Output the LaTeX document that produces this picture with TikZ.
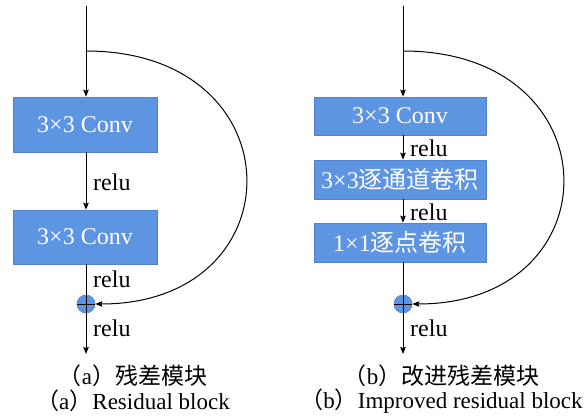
\documentclass[tikz,border=0pt]{standalone}
\usepackage{fontspec}
\setmainfont{Liberation Serif}
\newfontfamily\cjk{Noto Sans CJK SC}
\usetikzlibrary{arrows.meta}
\definecolor{boxblue}{RGB}{94,149,227}
\definecolor{boxedge}{RGB}{80,130,205}
\tikzset{
  box/.style={fill=boxblue, draw=boxedge, line width=0.6pt, text=white, inner sep=0pt,
    font=\fontsize{24}{28}\selectfont},
  lbl/.style={anchor=west, inner sep=0pt, font=\fontsize{24}{28}\selectfont},
  captxt/.style={inner sep=0pt, font=\fontsize{23}{27}\selectfont},
  arr/.style={-{Stealth[length=7pt,width=5.5pt,inset=1pt]}, line width=1pt},
  ln/.style={line width=1pt},
  plus/.style={circle, fill=boxblue, draw=boxedge, line width=0.6pt, minimum size=18pt, inner sep=0pt}
}
\begin{document}
\begin{tikzpicture}[x=1pt,y=-1pt]
\useasboundingbox (0,0) rectangle (585,417);
% ---------- (a) ----------
\coordinate (ta) at (86,6);
\coordinate (ba) at (86,51);
\coordinate (ea) at (86,354);
\node[box, minimum width=144pt, minimum height=55pt] (a1) at (85,124.5) {3×3 Conv};
\node[box, minimum width=144pt, minimum height=54pt] (a2) at (85,237) {3×3 Conv};
\node[plus] (pa) at (86,304) {};
\draw[arr] (ta) -- (ta |- a1.north);
\draw[arr] (a1.south -| ta) -- (a2.north -| ta);
\draw[arr] (a2.south -| ta) -- (ea);
\draw[ln] (pa.west) -- (pa.east);
\draw[arr] (ba) .. controls (298,51) and (298,304) .. (pa.east);
\node[lbl] (ra1) at (93,182) {relu};
\node[lbl] (ra2) at (93,279) {relu};
\node[lbl] (ra3) at (93,328) {relu};
\node[captxt] (ca1) at (133,376) {{\cjk （}a{\cjk ）残差模块}};
\node[captxt] (ca2) at (133,401) {{\cjk （}a{\cjk ）}Residual block};
% ---------- (b) ----------
\coordinate (tb) at (403,6);
\coordinate (bb) at (403,51);
\coordinate (eb) at (403,354);
\node[box, minimum width=172pt, minimum height=38pt] (b1) at (400,116) {3×3 Conv};
\node[box, minimum width=172pt, minimum height=39pt] (b2) at (400,179.5) {3×3{\cjk 逐通道卷积}};
\node[box, minimum width=172pt, minimum height=39pt] (b3) at (400,242.5) {1×1{\cjk 逐点卷积}};
\node[plus] (pb) at (403,304) {};
\draw[arr] (tb) -- (tb |- b1.north);
\draw[arr] (b1.south -| tb) -- (b2.north -| tb);
\draw[arr] (b2.south -| tb) -- (b3.north -| tb);
\draw[arr] (b3.south -| tb) -- (eb);
\draw[ln] (pb.west) -- (pb.east);
\draw[arr] (bb) .. controls (615,51) and (615,304) .. (pb.east);
\node[lbl] (rb1) at (410,148) {relu};
\node[lbl] (rb2) at (410,212) {relu};
\node[lbl] (rb3) at (410,328) {relu};
\node[captxt] (cb1) at (441.5,376) {{\cjk （}b{\cjk ）改进残差模块}};
\node[captxt] (cb2) at (441.5,401) {{\cjk （}b{\cjk ）}Improved residual block};
\end{tikzpicture}
\end{document}
